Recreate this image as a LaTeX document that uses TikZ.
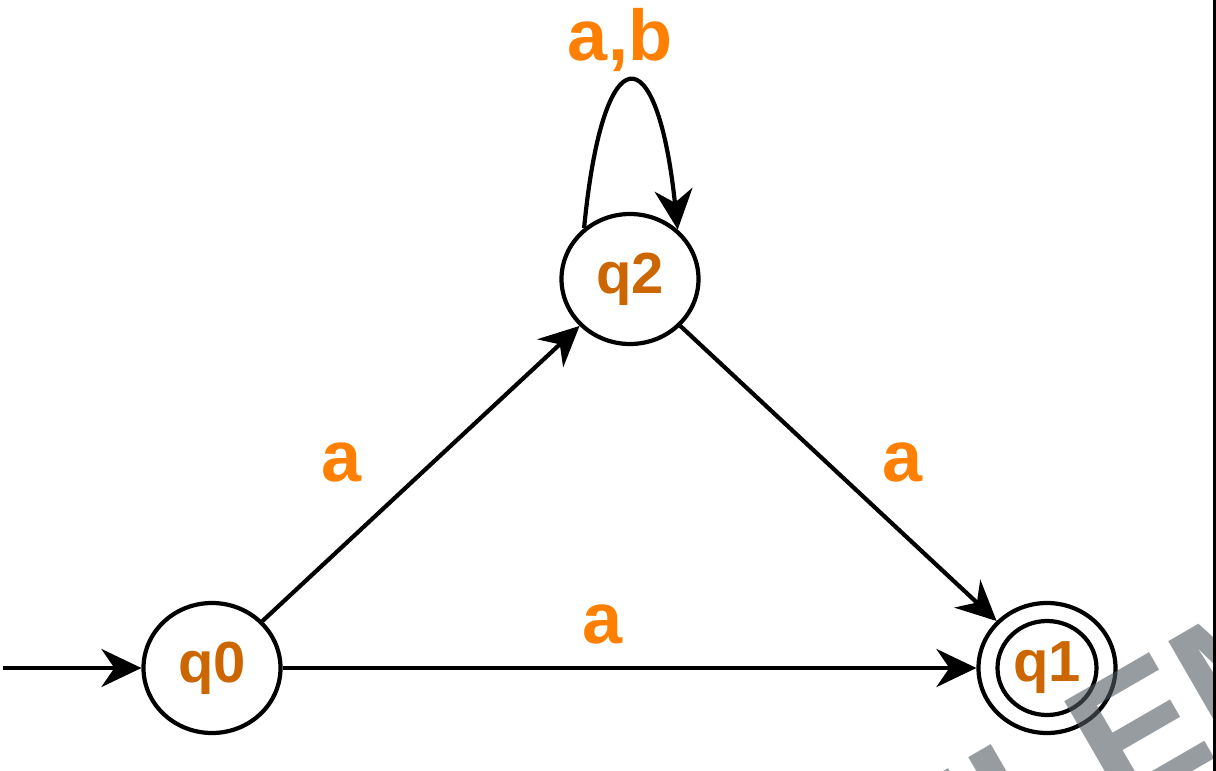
\documentclass[tikz,border=0pt]{standalone}
\usepackage{fontspec}
\setmainfont{Liberation Sans}
\usetikzlibrary{arrows.meta,shapes.geometric}
\definecolor{edgelab}{RGB}{255,128,0}
\definecolor{statelab}{RGB}{204,102,0}
\definecolor{wmgray}{RGB}{80,90,95}
\begin{document}
\begin{tikzpicture}[x=1pt,y=-1pt,
  state/.style={ellipse,draw,line width=4.2pt,minimum width=137pt,minimum height=130pt,inner sep=0pt,
    font=\fontsize{58}{60}\selectfont\bfseries,text=statelab},
  innerring/.style={ellipse,draw,line width=4.2pt,minimum width=99pt,minimum height=94pt,inner sep=0pt},
  edge/.style={line width=4.2pt,-{Stealth[length=40pt,width=38pt,inset=13pt]}},
  lab/.style={font=\fontsize{72}{76}\selectfont\bfseries,text=edgelab,inner sep=0pt},
  wm/.style={rotate=30,anchor=base west,inner sep=0pt,text=wmgray,text opacity=0.6,
    font=\fontsize{181}{181}\selectfont\bfseries}]
\useasboundingbox (0,0) rectangle (1216,771);
\fill[white] (0,0) rectangle (1216,771);
% states
\node[state] (q0) at (212,668) {q0};
\node[state] (q2) at (630,279) {q2};
\node[state] (q1) at (1047,668) {q1};
\node[innerring] (q1in) at (q1.center) {};
% connectors
\coordinate (start) at (3,668);
\draw[edge] (start) -- (q0);
\draw[edge] (q0) -- (q1);
\draw[edge] (q0) -- (q2);
\draw[edge] (q2) -- (q1);
\draw[edge] (q2.132) .. controls (603,33) and (657,33) .. (q2.46);
% labels
\node[lab] (l1) at (342,462) {a};
\node[lab] (l2) at (603,624) {a};
\node[lab] (l3) at (903,462) {a};
\node[lab,anchor=base] (l4) at (620,60) {a,b};
% watermark
\begin{scope}
\clip (0,0) rectangle (1216,771);
\node[wm] (wmark) at (915.7,931.5) {ELEMENT};
\end{scope}
\fill[black] (1212.5,0) rectangle (1216,771);
\end{tikzpicture}
\end{document}
